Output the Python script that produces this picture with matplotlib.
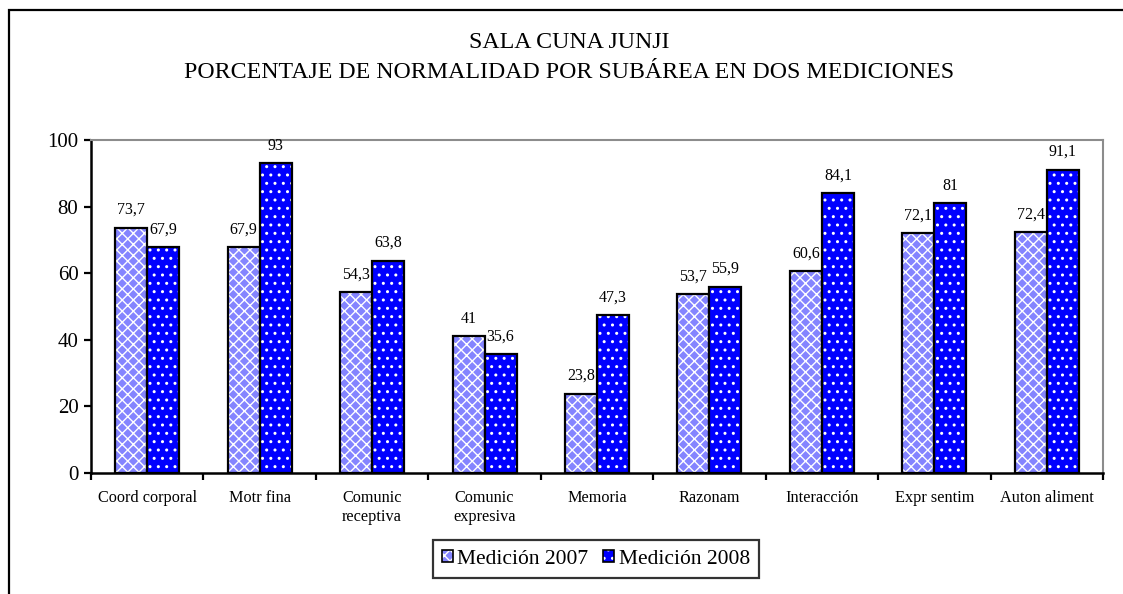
import matplotlib

matplotlib.use("Agg")
import matplotlib.pyplot as plt
import numpy as np
from matplotlib.legend_handler import HandlerTuple
from matplotlib.patches import Patch, Rectangle

plt.rcParams["font.family"] = ["Liberation Serif", "DejaVu Serif"]
plt.rcParams["hatch.linewidth"] = 1.0

categorias = ["Coord corporal", "Motr fina", "Comunic\nreceptiva", "Comunic\nexpresiva",
              "Memoria", "Razonam", "Interacción", "Expr sentim", "Auton aliment"]
med_2007 = [73.7, 67.9, 54.3, 41, 23.8, 53.7, 60.6, 72.1, 72.4]
med_2008 = [67.9, 93, 63.8, 35.6, 47.3, 55.9, 84.1, 81, 91.1]
series = ["Medición 2007", "Medición 2008"]
y_ticks = [0, 20, 40, 60, 80, 100]

# estilo de relleno: (color de fondo, trama blanca)
estilos = [("#8484ff", "xxx"), ("#0000ff", "..")]

W, H = 1123, 594
fig = plt.figure(figsize=(W / 100, H / 100), dpi=100)

# marco exterior (se sale de la imagen por derecha y abajo)
fig.patches.append(Rectangle((9 / W, -0.1), 1.2, 1 - 10 / H + 0.1,
                             transform=fig.transFigure, fill=False,
                             edgecolor="black", linewidth=1.6))

ax = fig.add_axes([91 / W, 1 - 473 / H, (1103 - 91) / W, (473 - 140) / H])

x = np.arange(len(categorias))
bw = 0.285
for i, vals in enumerate([med_2007, med_2008]):
    fc, hatch = estilos[i]
    pos = x + (i - 0.5) * bw
    ax.bar(pos, vals, bw, color=fc, edgecolor="white", hatch=hatch, linewidth=0)
    ax.bar(pos, vals, bw, fill=False, edgecolor="black", linewidth=1.6)
    for p, v in zip(pos, vals):
        ax.annotate(f"{v:g}".replace(".", ","), (p, v), xytext=(0, 7),
                    textcoords="offset points", ha="center", va="bottom",
                    fontsize=11.5)

ax.set_xlim(-0.5, len(categorias) - 0.5)
ax.set_ylim(0, 100)
ax.set_yticks(y_ticks)
ax.set_yticklabels([str(t) for t in y_ticks], fontsize=15)
ax.set_xticks(x)
ax.set_xticklabels(categorias, fontsize=11.7, linespacing=1.3, va="top")
ax.set_xticks(np.arange(len(categorias) + 1) - 0.5, minor=True)
ax.tick_params(axis="x", which="major", length=0, pad=12)
ax.tick_params(axis="x", which="minor", length=5, width=1.6, direction="out")
ax.tick_params(axis="y", length=5, width=1.6, direction="out", pad=4)

for s in ["left", "bottom"]:
    ax.spines[s].set_linewidth(1.8)
    ax.spines[s].set_color("black")
for s in ["top", "right"]:
    ax.spines[s].set_linewidth(1.5)
    ax.spines[s].set_color("#8c8c8c")

fig.text(0.507, 1 - 42 / H, "SALA CUNA JUNJI", ha="center", va="center", fontsize=17.2)
fig.text(0.507, 1 - 73 / H, "PORCENTAJE DE NORMALIDAD POR SUBÁREA EN DOS MEDICIONES",
         ha="center", va="center", fontsize=17.2)

handles = []
for fc, hatch in estilos:
    relleno = Patch(facecolor=fc, edgecolor="white", hatch=hatch, linewidth=0)
    borde = Patch(fill=False, edgecolor="black", linewidth=1.2)
    handles.append((relleno, borde))
leg = fig.legend(handles, series, loc="center", bbox_to_anchor=(596 / W, 1 - 559 / H),
                 ncol=2, fontsize=15.5, frameon=True, fancybox=False,
                 handlelength=0.5, handleheight=0.5, handletextpad=0.2,
                 columnspacing=0.7, borderpad=0.45,
                 handler_map={tuple: HandlerTuple(ndivide=1)})
leg.get_frame().set_edgecolor("black")
leg.get_frame().set_linewidth(1.6)

fig.savefig("out.png", dpi=100)
